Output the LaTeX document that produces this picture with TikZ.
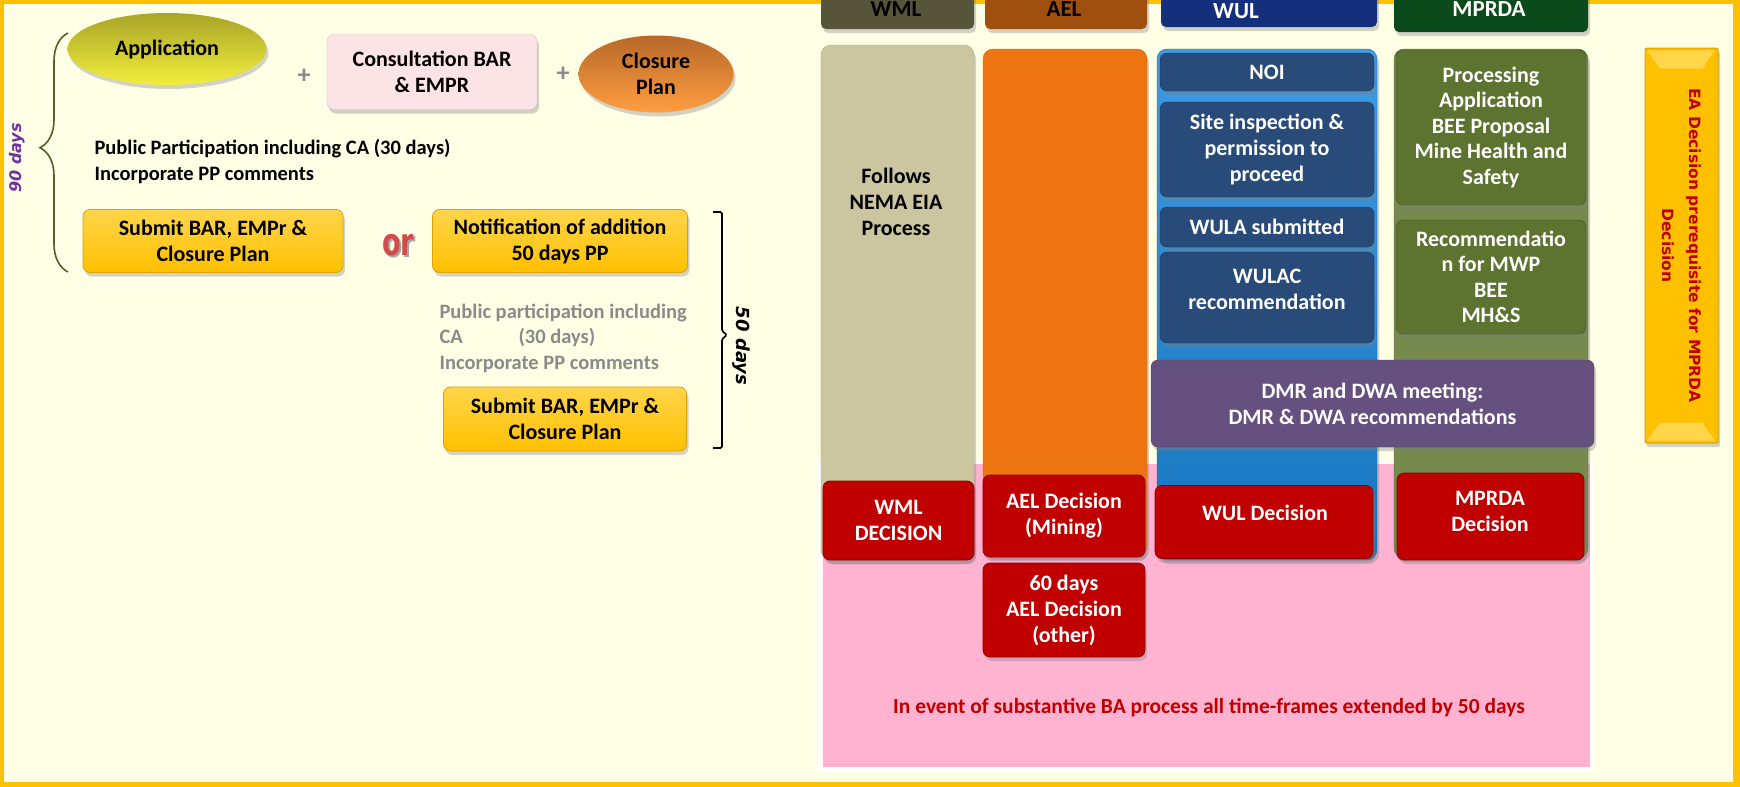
\documentclass[tikz,border=0pt]{standalone}
\usepackage{fontspec}
\usepackage{graphicx}
\setmainfont{Carlito}
\newfontfamily\dvs{DejaVu Sans}
\usetikzlibrary{shapes.geometric,shadows,decorations.pathreplacing}
\definecolor{frameY}{HTML}{FFC000}
\definecolor{cream}{HTML}{FFFFE6}
\definecolor{appTop}{HTML}{A8A428}
\definecolor{appBot}{HTML}{F2EE3C}
\definecolor{consFill}{HTML}{FBE3E6}
\definecolor{consDraw}{HTML}{CFC0C2}
\definecolor{closTop}{HTML}{B8682A}
\definecolor{closBot}{HTML}{FF9E40}
\definecolor{yel}{HTML}{FFC000}
\definecolor{yelTop}{HTML}{FFD54A}
\definecolor{yelDraw}{HTML}{D9A300}
\definecolor{orRed}{HTML}{D24A4A}
\definecolor{grayT}{HTML}{8A8A8A}
\definecolor{purpleT}{HTML}{7030A0}
\definecolor{braceGreen}{HTML}{4F6228}
\definecolor{hWML}{HTML}{56553A}
\definecolor{hAEL}{HTML}{A0500E}
\definecolor{hWUL}{HTML}{14307C}
\definecolor{hMPR}{HTML}{0B4A1A}
\definecolor{wmlCol}{HTML}{CCC6A0}
\definecolor{aelCol}{HTML}{EE7412}
\definecolor{wulCol}{HTML}{1A8AE0}
\definecolor{mprCol}{HTML}{758A4C}
\definecolor{navyBox}{HTML}{284B79}
\definecolor{oliveBox}{HTML}{5D7431}
\definecolor{purpleBox}{HTML}{66507F}
\definecolor{decRed}{HTML}{C00000}
\definecolor{decDraw}{HTML}{900000}
\definecolor{pinkBg}{HTML}{FFB3D1}
\tikzset{
  every node/.style={font=\bfseries\fontsize{22}{26}\selectfont},
  sh/.style={drop shadow={opacity=0.35,shadow xshift=2pt,shadow yshift=-4pt}},
  rbox/.style={rectangle, rounded corners=7pt, sh, inner sep=0pt, align=center},
  yelbox/.style={rbox, top color=yelTop, bottom color=yel, draw=yelDraw, line width=0.8pt},
  navbox/.style={rbox, fill=navyBox, draw=navyBox!70!black, text=white},
  olbox/.style={rbox, fill=oliveBox, draw=oliveBox!70!black, text=white},
  decbox/.style={rbox, fill=decRed, draw=decDraw, line width=0.8pt, text=white},
  hdr/.style={rbox, rounded corners=5pt},
  colbox/.style={rbox, rounded corners=10pt},
  wtext/.style={text=white, align=center},
}
\begin{document}
\begin{tikzpicture}[x=1pt,y=-1pt]
\useasboundingbox (0,0) rectangle (1740,787);
\clip (0,0) rectangle (1740,787);
\fill[frameY] (0,0) rectangle (1740,787);
\fill[cream] (4,4) rectangle (1733,782);

% ---------- left part ----------
\node[ellipse, minimum width=199pt, minimum height=72pt, top color=appTop, bottom color=appBot, sh, inner sep=0pt] (app) at (167,49) {Application};
\node[text=grayT, font=\bfseries\fontsize{26}{26}\selectfont] (plus1) at (304,76) {+};
\node[rbox, fill=consFill, draw=consDraw, minimum width=210pt, minimum height=75pt] (cons) at (432,72) {Consultation BAR\\\& EMPR};
\node[text=grayT, font=\bfseries\fontsize{26}{26}\selectfont] (plus2) at (563,74) {+};
\node[ellipse, minimum width=155pt, minimum height=77pt, top color=closTop, bottom color=closBot, sh, inner sep=0pt, align=center] (clos) at (656,74) {Closure\\Plan};

\node[anchor=west, align=left, font=\bfseries\fontsize{20.5}{26}\selectfont] (pp) at (91,162) {Public Participation including CA (30 days)\\Incorporate PP comments};

\node[yelbox, minimum width=260pt, minimum height=63pt] (sub1) at (213,241) {Submit BAR, EMPr \&\\Closure Plan};
\node[text=black!35, font=\dvs\bfseries\fontsize{27}{27}\selectfont] (orsh) at (400,247) {\scalebox{1}[1.4]{or}};
\node[text=orRed, font=\dvs\bfseries\fontsize{27}{27}\selectfont] (or) at (398,245) {\scalebox{1}[1.4]{or}};
\node[yelbox, minimum width=255pt, minimum height=63pt] (notif) at (560,241) {Notification of addition\\50 days PP};

\node[anchor=west, align=left, text=grayT, font=\bfseries\fontsize{20.5}{25.5}\selectfont] (gp) at (436,338) {Public participation including\\\makebox[79pt][l]{CA}(30 days)\\Incorporate PP comments};
\node[yelbox, minimum width=243pt, minimum height=64pt] (sub2) at (565,419) {Submit BAR, EMPr \&\\Closure Plan};

\draw[line width=1.6pt, rounded corners=1.5pt] (713,212) -- (722,212) -- (722,331) -- (727,335) -- (722,339) -- (722,448) -- (713,448);
\node[rotate=-90, font=\dvs\bfseries\itshape\fontsize{18}{18}\selectfont] (d50) at (741,346) {50 days};

\draw[braceGreen, line width=1.6pt, decorate, decoration={brace, amplitude=28pt, aspect=0.52}] (68,272) -- (68,33);
\node[rotate=90, text=purpleT, font=\dvs\bfseries\itshape\fontsize{16}{16}\selectfont] (d90) at (17,158) {90 days};

% ---------- right part ----------
\fill[white] (818,461) rectangle (1594,772);
\fill[pinkBg] (823,464) rectangle (1590,767);

\node[hdr, fill=hWML, minimum width=153pt, minimum height=49pt] (hWML) at (897.5,4.5) {};
\node[hdr, fill=hAEL, minimum width=162pt, minimum height=49pt] (hAEL) at (1066,4.5) {};
\node[hdr, fill=hWUL, minimum width=216pt, minimum height=47pt] (hWUL) at (1269,3.5) {};
\node[hdr, fill=hMPR, minimum width=194pt, minimum height=52pt] (hMPR) at (1491,6) {};
\node[font=\bfseries\fontsize{23}{23}\selectfont] (tWML) at (896,9) {WML};
\node[font=\bfseries\fontsize{23}{23}\selectfont] (tAEL) at (1064,9) {AEL};
\node[text=white, font=\bfseries\fontsize{23}{23}\selectfont] (tWUL) at (1236,11) {WUL};
\node[text=white, font=\bfseries\fontsize{23}{23}\selectfont] (tMPR) at (1489,9) {MPRDA};

\node[colbox, fill=wmlCol, draw=wmlCol!85!black, minimum width=153pt, minimum height=515pt] (cWML) at (897.5,302.5) {};
\node[colbox, fill=aelCol, draw=aelCol!85!black, minimum width=164pt, minimum height=507pt] (cAEL) at (1065,302.5) {};
\node[colbox, top color=wulCol!85!white, bottom color=wulCol!85!black, draw=wulCol!80!black, minimum width=220pt, minimum height=511pt] (cWUL) at (1267,304.5) {};
\node[colbox, fill=mprCol, draw=mprCol!80!black, minimum width=194pt, minimum height=509pt] (cMPR) at (1491,303.5) {};

\node[align=center] (follows) at (896,202) {Follows\\NEMA EIA\\Process};

\node[navbox, minimum width=214pt, minimum height=38pt] (noi) at (1267,72) {NOI};
\node[navbox, minimum width=214pt, minimum height=95pt] (site) at (1267,149.5) {Site inspection \&\\permission to\\proceed};
\node[navbox, minimum width=214pt, minimum height=40pt] (wula) at (1267,227) {WULA submitted};
\node[navbox, minimum width=214pt, minimum height=91pt] (wulac) at (1267,297.5) {};
\node[wtext] (wulact) at (1267,289) {WULAC\\recommendation};

\node[olbox, minimum width=190pt, minimum height=155pt, font=\bfseries\fontsize{22}{25.5}\selectfont] (proc) at (1491,127.5) {Processing\\Application\\BEE Proposal\\Mine Health and\\Safety};
\node[olbox, minimum width=190pt, minimum height=114pt, font=\bfseries\fontsize{22}{25.5}\selectfont] (rec) at (1491,277) {Recommendatio\\n for MWP\\BEE\\MH\&S};

\node[rbox, fill=purpleBox, draw=purpleBox!75!black, text=white, minimum width=443pt, minimum height=87pt] (meet) at (1372.5,403.5) {DMR and DWA meeting:\\DMR \& DWA recommendations};

\node[decbox, minimum width=151pt, minimum height=79pt] (dWML) at (898.5,520.5) {WML\\DECISION};
\node[decbox, minimum width=162pt, minimum height=82pt] (dAEL) at (1064,516) {AEL Decision\\(Mining)};
\node[decbox, minimum width=162pt, minimum height=94pt] (dAEL2) at (1064,610) {60 days\\AEL Decision\\(other)};
\node[decbox, minimum width=218pt, minimum height=73pt] (dWUL) at (1264,522) {};
\node[wtext] (dWULt) at (1265,513) {WUL Decision};
\node[decbox, minimum width=187pt, minimum height=87pt] (dMPR) at (1490.5,516.5) {};
\node[wtext] (dMPRt) at (1490,511) {MPRDA\\Decision};

\node[text=decRed, font=\bfseries\fontsize{21.5}{24}\selectfont] (ext) at (1209,708) {In event of substantive BA process all time-frames extended by 50 days};

\node[rbox, rounded corners=2pt, fill=yel, draw=yelDraw, line width=1pt, minimum width=73pt, minimum height=395pt] (ea) at (1681.5,245.5) {};
\fill[yelTop] (ea.north west) ++(3,3) -- ++(67,0) -- ++(-12,18) -- ++(-43,0) -- cycle;
\fill[yelTop] (ea.south west) ++(3,-3) -- ++(67,0) -- ++(-12,-18) -- ++(-43,0) -- cycle;
\node[rotate=-90, align=center, text=decRed, font=\dvs\bfseries\fontsize{15.5}{27}\selectfont] (eat) at (ea.center) {EA Decision prerequisite for MPRDA\\Decision};
\end{tikzpicture}
\end{document}
